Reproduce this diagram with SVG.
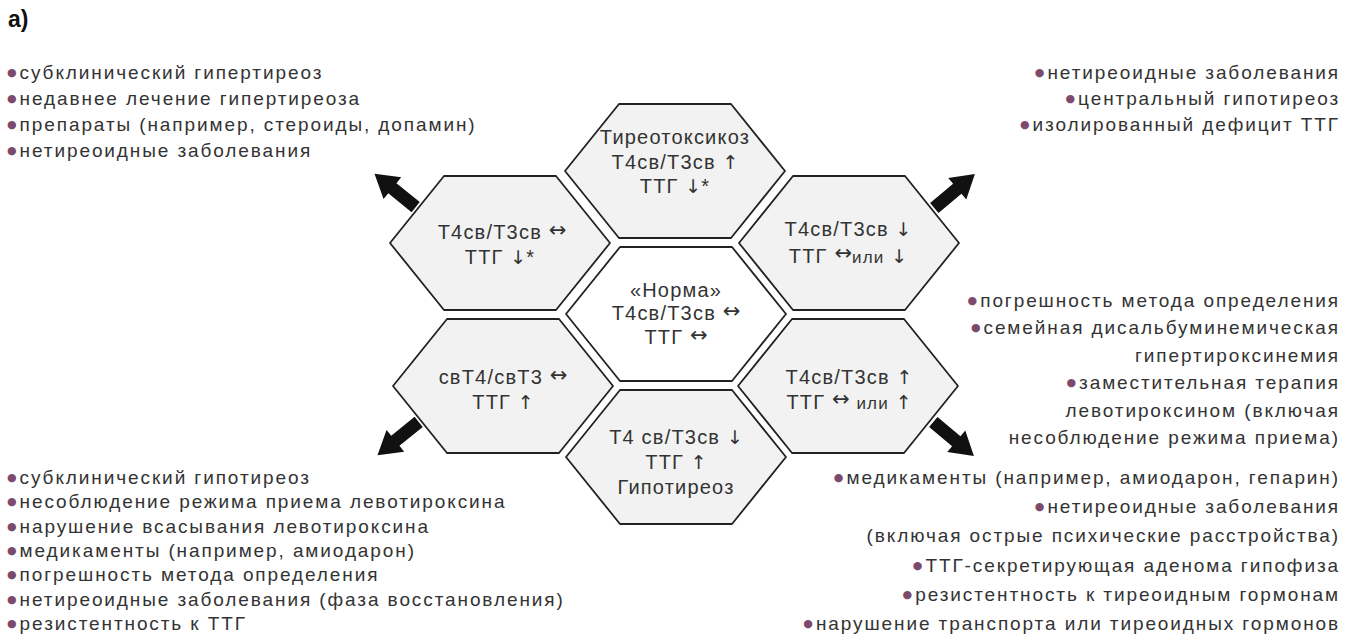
<svg xmlns="http://www.w3.org/2000/svg" width="1353" height="639" viewBox="0 0 1353 639">
<style>
.t{font-family:"Liberation Sans",Arial,sans-serif;font-size:19px;letter-spacing:1.9px;fill:#333}
.b{fill:#7b4a6c;font-family:"DejaVu Sans",sans-serif;font-size:11px;letter-spacing:0}
.r{text-anchor:end}
.h{font-family:"Liberation Sans",Arial,sans-serif;font-size:20px;letter-spacing:1.2px;fill:#333;text-anchor:middle}
.a{font-family:"DejaVu Sans",sans-serif;font-size:19px;letter-spacing:0}
.w{font-size:21px}
.sm{font-size:17px}
.hex{fill:#f2f2f2;stroke:#222;stroke-width:1.8;stroke-linejoin:round}
.hc{fill:#ffffff}
.arr{fill:#111}
.title{font-family:"Liberation Sans",Arial,sans-serif;font-size:23px;font-weight:bold;fill:#111}
</style>
<defs>
<polygon id="hx" points="-110,0 -56,-67 56,-67 110,0 56,67 -56,67"/>
<path id="ar" d="M3,-6.5 H33 V-14 L56,0 L33,14 V6.5 H3 Z"/>
</defs>
<rect width="1353" height="639" fill="#fff"/>
<text class="title" x="8" y="27">а)</text>

<g id="list-top-left" class="t">
<text x="7" y="79"><tspan class="b" dy="-3">●</tspan><tspan dx="3" dy="3">субклинический гипертиреоз</tspan></text>
<text x="7" y="105"><tspan class="b" dy="-3">●</tspan><tspan dx="3" dy="3">недавнее лечение гипертиреоза</tspan></text>
<text x="7" y="131"><tspan class="b" dy="-3">●</tspan><tspan dx="3" dy="3">препараты (например, стероиды, допамин)</tspan></text>
<text x="7" y="157"><tspan class="b" dy="-3">●</tspan><tspan dx="3" dy="3">нетиреоидные заболевания</tspan></text>
</g>

<g id="list-top-right" class="t r">
<text x="1340" y="79"><tspan class="b" dy="-3">●</tspan><tspan dx="3" dy="3">нетиреоидные заболевания</tspan></text>
<text x="1340" y="105"><tspan class="b" dy="-3">●</tspan><tspan dx="3" dy="3">центральный гипотиреоз</tspan></text>
<text x="1340" y="131"><tspan class="b" dy="-3">●</tspan><tspan dx="3" dy="3">изолированный дефицит ТТГ</tspan></text>
</g>

<g id="list-bottom-left" class="t">
<text x="7" y="484"><tspan class="b" dy="-3">●</tspan><tspan dx="3" dy="3">субклинический гипотиреоз</tspan></text>
<text x="7" y="508.3"><tspan class="b" dy="-3">●</tspan><tspan dx="3" dy="3">несоблюдение режима приема левотироксина</tspan></text>
<text x="7" y="532.6"><tspan class="b" dy="-3">●</tspan><tspan dx="3" dy="3">нарушение всасывания левотироксина</tspan></text>
<text x="7" y="556.9"><tspan class="b" dy="-3">●</tspan><tspan dx="3" dy="3">медикаменты (например, амиодарон)</tspan></text>
<text x="7" y="581.2"><tspan class="b" dy="-3">●</tspan><tspan dx="3" dy="3">погрешность метода определения</tspan></text>
<text x="7" y="605.5"><tspan class="b" dy="-3">●</tspan><tspan dx="3" dy="3">нетиреоидные заболевания (фаза восстановления)</tspan></text>
<text x="7" y="629.8"><tspan class="b" dy="-3">●</tspan><tspan dx="3" dy="3">резистентность к ТТГ</tspan></text>
</g>

<g id="list-bottom-right" class="t r">
<text x="1340" y="307"><tspan class="b" dy="-3">●</tspan><tspan dx="3" dy="3">погрешность метода определения</tspan></text>
<text x="1340" y="334.4"><tspan class="b" dy="-3">●</tspan><tspan dx="3" dy="3">семейная дисальбуминемическая</tspan></text>
<text x="1340" y="361.8">гипертироксинемия</text>
<text x="1340" y="389.2"><tspan class="b" dy="-3">●</tspan><tspan dx="3" dy="3">заместительная терапия</tspan></text>
<text x="1340" y="416.6">левотироксином (включая</text>
<text x="1340" y="444">несоблюдение режима приема)</text>
<text x="1340" y="484"><tspan class="b" dy="-3">●</tspan><tspan dx="3" dy="3">медикаменты (например, амиодарон, гепарин)</tspan></text>
<text x="1340" y="513.2"><tspan class="b" dy="-3">●</tspan><tspan dx="3" dy="3">нетиреоидные заболевания</tspan></text>
<text x="1340" y="542.4">(включая острые психические расстройства)</text>
<text x="1340" y="571.6"><tspan class="b" dy="-3">●</tspan><tspan dx="3" dy="3">ТТГ-секретирующая аденома гипофиза</tspan></text>
<text x="1340" y="600.8"><tspan class="b" dy="-3">●</tspan><tspan dx="3" dy="3">резистентность к тиреоидным гормонам</tspan></text>
<text x="1340" y="629.8"><tspan class="b" dy="-3">●</tspan><tspan dx="3" dy="3">нарушение транспорта или тиреоидных гормонов</tspan></text>
</g>

<g id="hex-top">
<use href="#hx" class="hex" transform="translate(675,171)"/>
<text class="h" x="675" y="144">Тиреотоксикоз</text>
<text class="h" x="675" y="169">Т4св/Т3св <tspan class="a">↑</tspan></text>
<text class="h" x="675" y="193">ТТГ <tspan class="a">↓</tspan>*</text>
</g>
<g id="hex-upper-left">
<use href="#hx" class="hex" transform="translate(500,243)"/>
<text class="h" x="502" y="239">Т4св/Т3св <tspan class="a w" dy="-2">↔</tspan></text>
<text class="h" x="500" y="264">ТТГ <tspan class="a">↓</tspan>*</text>
</g>
<g id="hex-upper-right">
<use href="#hx" class="hex" transform="translate(849,243)"/>
<text class="h" x="848" y="236">Т4св/Т3св <tspan class="a">↓</tspan></text>
<text class="h" x="848" y="263">ТТГ <tspan class="a w" dy="-3">↔</tspan><tspan class="sm" dy="3">или</tspan> <tspan class="a">↓</tspan></text>
</g>
<g id="hex-center">
<use href="#hx" class="hex hc" transform="translate(676,314)"/>
<text class="h" x="676" y="297">«Норма»</text>
<text class="h" x="676" y="320">Т4св/Т3св <tspan class="a w" dy="-2">↔</tspan></text>
<text class="h" x="676" y="344">ТТГ <tspan class="a w" dy="-2">↔</tspan></text>
</g>
<g id="hex-lower-left">
<use href="#hx" class="hex" transform="translate(503,386)"/>
<text class="h" x="503" y="384">свТ4/свТ3 <tspan class="a w" dy="-2">↔</tspan></text>
<text class="h" x="503" y="409">ТТГ <tspan class="a">↑</tspan></text>
</g>
<g id="hex-lower-right">
<use href="#hx" class="hex" transform="translate(848,386)"/>
<text class="h" x="849" y="384">Т4св/Т3св <tspan class="a">↑</tspan></text>
<text class="h" x="849" y="409">ТТГ <tspan class="a w" dy="-3">↔</tspan> <tspan class="sm" dy="3">или</tspan> <tspan class="a">↑</tspan></text>
</g>
<g id="hex-bottom">
<use href="#hx" class="hex" transform="translate(676,457)"/>
<text class="h" x="676" y="444">Т4 св/Т3св <tspan class="a">↓</tspan></text>
<text class="h" x="676" y="469">ТТГ <tspan class="a">↑</tspan></text>
<text class="h" x="676" y="494">Гипотиреоз</text>
</g>

<g id="connectors" class="arr">
<use href="#ar" transform="translate(418,209) rotate(-141)"/>
<use href="#ar" transform="translate(932,210) rotate(-40)"/>
<use href="#ar" transform="translate(421,420) rotate(141)"/>
<use href="#ar" transform="translate(931,420) rotate(40)"/>
</g>
</svg>
